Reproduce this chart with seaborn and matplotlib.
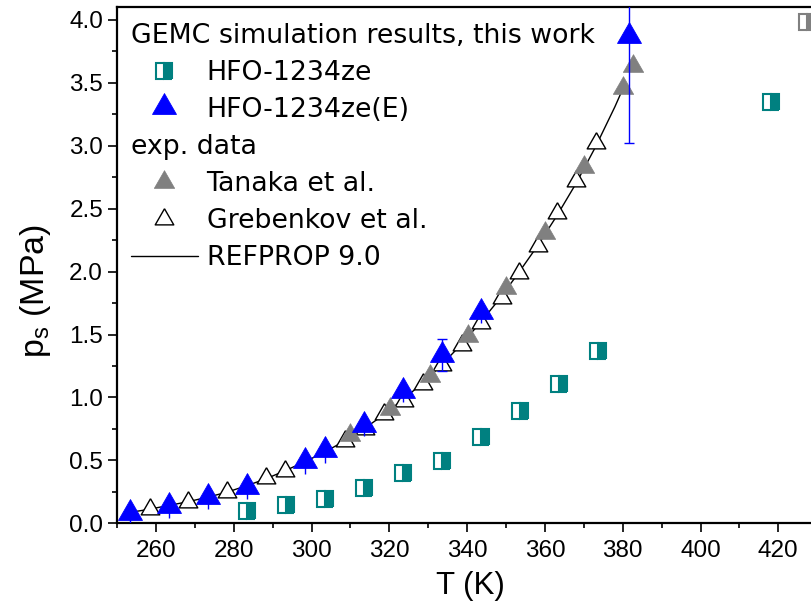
import numpy as np
import pandas as pd
import matplotlib
matplotlib.use("Agg")
import matplotlib.pyplot as plt
import seaborn as sns
from matplotlib.ticker import MultipleLocator

# ---------------- data ----------------
# GEMC simulation, HFO-1234ze
T_ze = [283.5, 293.4, 303.5, 313.6, 323.6, 333.6, 343.5, 353.6, 363.5, 373.6, 418.0]
p_ze = [0.10, 0.149, 0.194, 0.279, 0.40, 0.495, 0.686, 0.891, 1.106, 1.372, 3.35]
# GEMC simulation, HFO-1234ze(E)
T_zeE = [253.3, 263.3, 273.3, 283.3, 298.4, 303.5, 313.5, 323.6, 333.6, 343.6, 381.5]
p_zeE = [0.082, 0.135, 0.209, 0.292, 0.494, 0.582, 0.783, 1.051, 1.338, 1.678, 3.87]
err_zeE = [0.09, 0.09, 0.095, 0.10, 0.10, 0.10, 0.09, 0.09, 0.13, 0.09, 0.85]
# additional grey half-filled point at top right (cut off)
T_extra = [427.5]
p_extra = [3.98]
# exp. data, Tanaka et al.
T_tan = [310.0, 320.3, 330.4, 340.3, 350.0, 360.0, 370.0, 380.1, 382.6]
p_tan = [0.699, 0.912, 1.173, 1.492, 1.866, 2.306, 2.832, 3.456, 3.631]
# exp. data, Grebenkov et al.
T_gre = [258.4, 268.3, 278.3, 288.4, 293.3, 308.7, 313.7, 318.7, 323.7, 328.7,
         333.6, 338.7, 343.6, 348.9, 353.3, 358.3, 363.2, 368.1, 373.2]
p_gre = [0.117, 0.170, 0.247, 0.356, 0.415, 0.651, 0.747, 0.867, 0.971, 1.106,
         1.256, 1.416, 1.593, 1.792, 1.989, 2.202, 2.466, 2.718, 3.023]
# REFPROP 9.0 curve
T_ref = [253, 258, 263, 268, 273, 278, 283, 288, 293, 298, 303, 308, 313, 318,
         323, 328, 333, 338, 343, 348, 353, 358, 363, 368, 373, 378, 380]
p_ref = [0.085, 0.11, 0.14, 0.17, 0.205, 0.245, 0.295, 0.35, 0.415, 0.485, 0.56,
         0.645, 0.74, 0.85, 0.97, 1.10, 1.245, 1.405, 1.58, 1.77, 1.98, 2.20,
         2.44, 2.70, 2.99, 3.31, 3.45]

xticks = [260, 280, 300, 320, 340, 360, 380, 400, 420]
yticks = [0.0, 0.5, 1.0, 1.5, 2.0, 2.5, 3.0, 3.5, 4.0]

# ---------------- style ----------------
sns.set_theme(style="ticks")
plt.rcParams["font.family"] = ["Liberation Sans", "DejaVu Sans"]
plt.rcParams["mathtext.fontset"] = "custom"
plt.rcParams["mathtext.rm"] = "Liberation Sans"
for k in ["text.color", "axes.labelcolor", "xtick.color", "ytick.color", "axes.edgecolor"]:
    plt.rcParams[k] = "black"

TEAL = "#008080"
BLUE = "#0000FF"
GREY = "#808080"

# triangle marker whose centroid sits on the data point
TRI = [(0.0, 1.0), (-0.8625, -0.5), (0.8625, -0.5), (0.0, 1.0)]

W, H = 812, 604
fig = plt.figure(figsize=(W / 100, H / 100), dpi=100)
x0, x1 = 250, 436
ax_left = 117 / W
ax_bottom = (H - 523.3) / H
ax_height = (523.3 - 7.3) / H
px_per_K = 3.89
ax_width = (x1 - x0) * px_per_K / W
ax = fig.add_axes([ax_left, ax_bottom, ax_width, ax_height])

# REFPROP line
sns.lineplot(x=T_ref, y=p_ref, color="black", linewidth=1.0, ax=ax, sort=True,
             legend=False)
h_ref = ax.lines[-1]

# Grebenkov (open triangles)
sns.lineplot(x=T_gre, y=p_gre, linestyle="", marker=TRI, markersize=15.5,
             markerfacecolor="white", markeredgecolor="black", markeredgewidth=1.0,
             color="black", ax=ax, legend=False)
h_gre = ax.lines[-1]

# Tanaka (grey triangles)
sns.lineplot(x=T_tan, y=p_tan, linestyle="", marker=TRI, markersize=17,
             markerfacecolor=GREY, markeredgecolor=GREY, markeredgewidth=0.5,
             color=GREY, ax=ax, legend=False)
h_tan = ax.lines[-1]

# HFO-1234ze (half filled teal squares)
sns.lineplot(x=T_ze, y=p_ze, linestyle="", marker="s", markersize=12,
             fillstyle="right", markerfacecolor=TEAL, markerfacecoloralt="white",
             markeredgecolor=TEAL, markeredgewidth=1.5, color=TEAL, ax=ax, legend=False)
h_ze = ax.lines[-1]

# extra grey half-filled square
sns.lineplot(x=T_extra, y=p_extra, linestyle="", marker="s", markersize=12,
             fillstyle="right", markerfacecolor=GREY, markerfacecoloralt="white",
             markeredgecolor=GREY, markeredgewidth=1.5, color=GREY, ax=ax, legend=False)

# HFO-1234ze(E) error bars (caps only where the bar reaches beyond the marker)
big = [i for i, e in enumerate(err_zeE) if e >= 0.12]
small = [i for i, e in enumerate(err_zeE) if e < 0.12]
ax.errorbar([T_zeE[i] for i in small], [p_zeE[i] for i in small],
            yerr=[err_zeE[i] for i in small], fmt="none", ecolor=BLUE,
            elinewidth=1.0, capsize=0, zorder=3)
ax.errorbar([T_zeE[i] for i in big], [p_zeE[i] for i in big],
            yerr=[err_zeE[i] for i in big], fmt="none", ecolor=BLUE,
            elinewidth=1.0, capsize=3.8, capthick=1.0, zorder=3)
sns.lineplot(x=T_zeE, y=p_zeE, linestyle="", marker=TRI, markersize=20,
             markerfacecolor=BLUE, markeredgecolor=BLUE, markeredgewidth=0.6,
             color=BLUE, ax=ax, legend=False, zorder=4)
h_zeE = ax.lines[-1]

# ---------------- axes ----------------
ax.set_xlim(x0, x1)
ax.set_ylim(0, 4.1)
ax.set_xticks(xticks)
ax.set_yticks(yticks)
ax.set_xticklabels([str(t) for t in xticks])
ax.set_yticklabels([f"{v:.1f}" for v in yticks])
ax.xaxis.set_minor_locator(MultipleLocator(10))
ax.yaxis.set_minor_locator(MultipleLocator(0.25))
ax.tick_params(axis="x", which="major", pad=5.5)
ax.tick_params(which="major", direction="out", length=6.5, width=1.2,
               labelsize=17.5, colors="black")
ax.tick_params(which="minor", direction="out", length=3.6, width=1.2)
for s in ["left", "bottom", "top", "right"]:
    ax.spines[s].set_visible(True)
    ax.spines[s].set_linewidth(1.6)
    ax.spines[s].set_color("black")

ax.set_xlabel("T (K)", fontsize=22.5)
ax.set_ylabel(r"p$_\mathregular{s}$ (MPa)", fontsize=24.5)
ax.xaxis.set_label_coords(0.4885, -0.093)
ax.yaxis.set_label_coords(-0.088, 0.45)

# ---------------- legends ----------------
common = dict(frameon=False, prop={"family": "DejaVu Sans", "size": 19.3},
              title_fontproperties={"family": "DejaVu Sans", "size": 19.3},
              alignment="left", handlelength=2.5, handletextpad=0.33,
              labelspacing=0.41, borderpad=0.0, borderaxespad=0.0, loc="upper left")
leg1 = ax.legend([h_ze, h_zeE], ["HFO-1234ze", "HFO-1234ze(E)"],
                 title="GEMC simulation results, this work",
                 bbox_to_anchor=(0.019, 0.970), **common)
leg1._legend_box.sep = 8
ax.add_artist(leg1)
leg2 = ax.legend([h_tan, h_gre, h_ref], ["Tanaka et al.", "Grebenkov et al.", "REFPROP 9.0"],
                 title="exp. data", bbox_to_anchor=(0.019, 0.754), **common)
leg2._legend_box.sep = 8

fig.savefig("out.png", dpi=100)
